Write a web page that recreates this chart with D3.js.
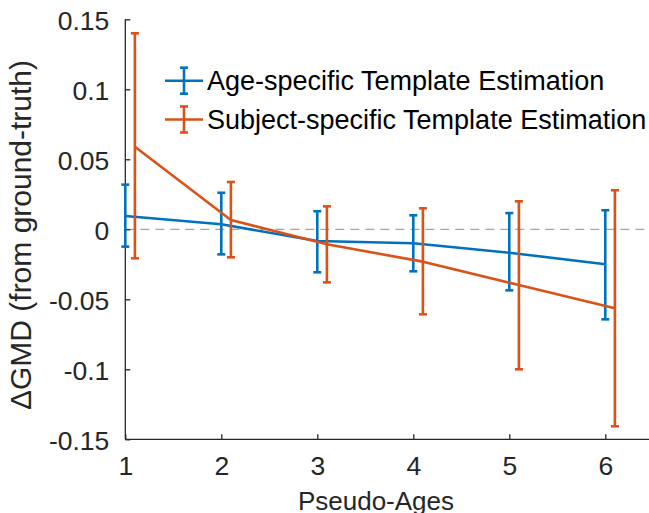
<!DOCTYPE html>
<html>
<head>
<meta charset="utf-8">
<script src="https://cdn.jsdelivr.net/npm/d3@7"></script>
<style>
  html, body { margin: 0; padding: 0; background: #fff; }
  svg { display: block; font-family: "Liberation Sans", Arial, Helvetica, sans-serif; }
</style>
</head>
<body>
<svg id="chart" width="649" height="513"></svg>
<script>
// ---- data ----
const ages = [1, 2, 3, 4, 5, 6];
const yTicks = [-0.15, -0.1, -0.05, 0, 0.05, 0.1, 0.15];
const yTickLabels = ["-0.15", "-0.1", "-0.05", "0", "0.05", "0.1", "0.15"];
const xTickLabels = ["1", "2", "3", "4", "5", "6"];

const seriesNames = ["Age-specific Template Estimation", "Subject-specific Template Estimation"];

const ageMean = [0.0095, 0.0036, -0.0084, -0.0100, -0.0167, -0.0250];
const ageLow  = [-0.0124, -0.0179, -0.0307, -0.0300, -0.0436, -0.0643];
const ageHigh = [0.0319, 0.0261, 0.0129, 0.0100, 0.0116, 0.0136];

const subjMean = [0.0590, 0.0066, -0.0107, -0.0231, -0.0398, -0.0564];
const subjLow  = [-0.0207, -0.0200, -0.0379, -0.0607, -0.1000, -0.1407];
const subjHigh = [0.1400, 0.0338, 0.0164, 0.0150, 0.0200, 0.0279];

const xLabel = "Pseudo-Ages";
const yLabel = "\u0394GMD (from ground-truth)";

// ---- layout ----
const colors = ["#0072BD", "#D95319"];
const axisColor = "#262626";
const xOffsets = [0, 0.1];

const svg = d3.select("#chart");
const x = d3.scaleLinear().domain([1, 6.5]).range([125.3, 653.3]);
const y = d3.scaleLinear().domain([-0.15, 0.15]).range([439.3, 19.3]);

// zero reference line
svg.append("line")
  .attr("x1", x(1)).attr("x2", 649)
  .attr("y1", y(0)).attr("y2", y(0))
  .attr("stroke", "#8f8f8f").attr("stroke-width", 1)
  .attr("stroke-dasharray", "9,6");

// axes
const yAxis = d3.axisLeft(y).tickValues(yTicks)
  .tickFormat((d, i) => yTickLabels[i]).tickSize(-5).tickPadding(17);
const gy = svg.append("g").attr("transform", `translate(${x(1)},0)`).call(yAxis);
const xAxis = d3.axisBottom(x).tickValues(ages)
  .tickFormat((d, i) => xTickLabels[i]).tickSize(-5).tickPadding(17);
const gx = svg.append("g").attr("transform", `translate(0,${y(-0.15)})`).call(xAxis);

[gx, gy].forEach(g => {
  g.select(".domain").attr("stroke", axisColor).attr("stroke-width", 1.3);
  g.selectAll(".tick line").attr("stroke", axisColor).attr("stroke-width", 1.3);
  g.selectAll(".tick text").attr("fill", axisColor)
    .style("font-size", "26.5px").style("font-family", "'Liberation Sans', Arial, sans-serif");
});
gy.select(".domain").attr("d", `M0,${y(0.15)}V${y(-0.15)}`);
gx.select(".domain").attr("d", `M${x(1)},0H649`);
gy.selectAll(".tick text").attr("dy", "0.38em").attr("x", -16);
gx.selectAll(".tick text").attr("dy", "0.71em").attr("y", 17);

// series
const series = [
  { mean: ageMean, low: ageLow, high: ageHigh },
  { mean: subjMean, low: subjLow, high: subjHigh }
];
const lw = 2.6;
const cap = 4;
series.forEach((s, si) => {
  const g = svg.append("g");
  const pts = ages.map((a, i) => ({ xa: a + xOffsets[si], m: s.mean[i], lo: s.low[i], hi: s.high[i] }));
  g.append("path")
    .attr("d", d3.line().x(d => x(d.xa)).y(d => y(d.m))(pts))
    .attr("fill", "none").attr("stroke", colors[si]).attr("stroke-width", lw)
    .attr("stroke-linejoin", "round");
  const bars = g.selectAll(".bar").data(pts).join("g");
  bars.append("line")
    .attr("x1", d => x(d.xa)).attr("x2", d => x(d.xa))
    .attr("y1", d => y(d.lo)).attr("y2", d => y(d.hi))
    .attr("stroke", colors[si]).attr("stroke-width", lw);
  bars.append("line")
    .attr("x1", d => x(d.xa) - cap).attr("x2", d => x(d.xa) + cap)
    .attr("y1", d => y(d.lo)).attr("y2", d => y(d.lo))
    .attr("stroke", colors[si]).attr("stroke-width", lw);
  bars.append("line")
    .attr("x1", d => x(d.xa) - cap).attr("x2", d => x(d.xa) + cap)
    .attr("y1", d => y(d.hi)).attr("y2", d => y(d.hi))
    .attr("stroke", colors[si]).attr("stroke-width", lw);
});

// legend
const legend = svg.append("g");
const legY = [80.7, 119.5];
seriesNames.forEach((name, i) => {
  const cy = legY[i];
  legend.append("line").attr("x1", 165).attr("x2", 203).attr("y1", cy).attr("y2", cy)
    .attr("stroke", colors[i]).attr("stroke-width", lw);
  legend.append("line").attr("x1", 184).attr("x2", 184).attr("y1", cy - 13).attr("y2", cy + 13)
    .attr("stroke", colors[i]).attr("stroke-width", lw);
  legend.append("line").attr("x1", 180).attr("x2", 188).attr("y1", cy - 13).attr("y2", cy - 13)
    .attr("stroke", colors[i]).attr("stroke-width", lw);
  legend.append("line").attr("x1", 180).attr("x2", 188).attr("y1", cy + 13).attr("y2", cy + 13)
    .attr("stroke", colors[i]).attr("stroke-width", lw);
  legend.append("text").attr("x", 207).attr("y", cy).attr("dy", "0.36em")
    .attr("fill", "#000").style("font-size", "27px").text(name);
});

// axis labels
svg.append("text").attr("x", 376).attr("y", 510)
  .attr("text-anchor", "middle").attr("fill", axisColor)
  .style("font-size", "26px").text(xLabel);
svg.append("text")
  .attr("transform", `translate(31,${235}) rotate(-90)`)
  .attr("text-anchor", "middle").attr("fill", axisColor)
  .style("font-size", "30px").text(yLabel);
</script>
</body>
</html>
